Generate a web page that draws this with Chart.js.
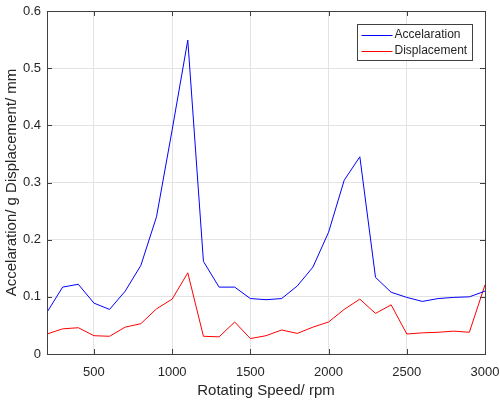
<!DOCTYPE html>
<html>
<head>
<meta charset="utf-8">
<script src="https://cdn.jsdelivr.net/npm/chart.js@4"></script>
<style>
  html, body { margin: 0; padding: 0; background: #fff; }
  #wrap { width: 500px; height: 400px; }
</style>
</head>
<body>
<div id="wrap"><canvas id="grafico" width="500" height="400"></canvas></div>
<script>
// Velocidades medidas (rpm)
const velocidades = [200, 300, 400, 500, 600, 700, 800, 900, 1000, 1100, 1200, 1300, 1400, 1500,
    1600, 1700, 1800, 1900, 2000, 2100, 2200, 2300, 2400, 2500, 2600, 2700, 2800, 2900, 3000];

// Aceleración (g)
const aceleracion = [0.073, 0.117, 0.122, 0.089, 0.078, 0.110, 0.155, 0.240, 0.392, 0.549,
    0.162, 0.117, 0.117, 0.097, 0.095, 0.097, 0.119, 0.152, 0.213, 0.304, 0.345,
    0.134, 0.108, 0.099, 0.092, 0.097, 0.099, 0.100, 0.110];

// Desplazamiento (mm)
const desplazamiento = [0.035, 0.044, 0.046, 0.032, 0.031, 0.047, 0.053, 0.079, 0.096, 0.142,
    0.031, 0.030, 0.056, 0.027, 0.032, 0.042, 0.036, 0.047, 0.056, 0.078, 0.096,
    0.071, 0.086, 0.035, 0.037, 0.038, 0.040, 0.038, 0.121];

const ticksX = [500, 1000, 1500, 2000, 2500, 3000];
const ticksY = [0, 0.1, 0.2, 0.3, 0.4, 0.5, 0.6];

const colorEjes = '#404040';
const fuente = '"Liberation Sans", Arial, sans-serif';

Chart.defaults.font.family = fuente;
Chart.defaults.color = '#262626';

// Marco, marcas hacia adentro y leyenda dentro del área
const marcoPlugin = {
    id: 'marco',
    afterDraw(chart) {
        const { ctx, chartArea: a, scales } = chart;
        ctx.save();
        ctx.strokeStyle = colorEjes;
        ctx.lineWidth = 1;
        ctx.strokeRect(Math.round(a.left) + 0.5, Math.round(a.top) + 0.5,
            Math.round(a.right - a.left), Math.round(a.bottom - a.top));

        ctx.beginPath();
        ticksX.forEach(v => {
            const x = Math.round(scales.x.getPixelForValue(v)) + 0.5;
            ctx.moveTo(x, a.bottom); ctx.lineTo(x, a.bottom - 5);
            ctx.moveTo(x, a.top); ctx.lineTo(x, a.top + 5);
        });
        ticksY.forEach(v => {
            const y = Math.round(scales.y.getPixelForValue(v)) + 0.5;
            ctx.moveTo(a.left, y); ctx.lineTo(a.left + 5, y);
            ctx.moveTo(a.right, y); ctx.lineTo(a.right - 5, y);
        });
        ctx.stroke();

        // Leyenda
        const lx = 357.5, ly = 24.5, lw = 115, lh = 36;
        ctx.fillStyle = '#fff';
        ctx.fillRect(lx, ly, lw, lh);
        ctx.strokeStyle = colorEjes;
        ctx.strokeRect(lx, ly, lw, lh);
        ctx.font = '12px ' + fuente;
        ctx.textBaseline = 'middle';
        chart.data.datasets.forEach((ds, i) => {
            const y = ly + 10 + i * 16.5;
            ctx.strokeStyle = ds.borderColor;
            ctx.beginPath();
            ctx.moveTo(lx + 4, Math.round(y) + 0.5);
            ctx.lineTo(lx + 35, Math.round(y) + 0.5);
            ctx.stroke();
            ctx.fillStyle = '#262626';
            ctx.fillText(ds.label, lx + 37, y);
        });
        ctx.restore();
    }
};

new Chart(document.getElementById('grafico').getContext('2d'), {
    type: 'line',
    data: {
        datasets: [{
            label: 'Accelaration',
            data: velocidades.map((v, i) => ({ x: v, y: aceleracion[i] })),
            borderColor: '#0000ff',
            borderWidth: 1,
            pointRadius: 0,
            tension: 0
        }, {
            label: 'Displacement',
            data: velocidades.map((v, i) => ({ x: v, y: desplazamiento[i] })),
            borderColor: '#ff0000',
            borderWidth: 1,
            pointRadius: 0,
            tension: 0
        }]
    },
    options: {
        responsive: false,
        animation: false,
        layout: { padding: { top: 11, right: 15, left: 0, bottom: 0 } },
        plugins: {
            legend: { display: false },
            tooltip: { enabled: false }
        },
        scales: {
            x: {
                type: 'linear',
                min: 200,
                max: 3000,
                afterBuildTicks: s => { s.ticks = ticksX.map(v => ({ value: v })); },
                afterFit: s => { s.height = 46; s.paddingLeft = 0; s.paddingRight = 0; },
                grid: { color: '#e3e3e3', drawTicks: false },
                border: { display: false },
                ticks: { padding: 11, font: { size: 13 }, maxRotation: 0, callback: v => String(v) },
                title: {
                    display: true,
                    text: 'Rotating Speed/ rpm',
                    font: { size: 15 },
                    padding: { top: 1, bottom: 0 }
                }
            },
            y: {
                min: 0,
                max: 0.6,
                afterBuildTicks: s => { s.ticks = ticksY.map(v => ({ value: v })); },
                afterFit: s => { s.width = 47; s.paddingTop = 0; s.paddingBottom = 0; },
                grid: { color: '#e3e3e3', drawTicks: false },
                border: { display: false },
                ticks: { padding: 6, font: { size: 13 }, callback: v => String(v) },
                title: {
                    display: true,
                    text: 'Accelaration/ g Displacement/ mm',
                    font: { size: 15 },
                    padding: { top: 3, bottom: 2 }
                }
            }
        }
    },
    plugins: [marcoPlugin]
});
</script>
</body>
</html>
